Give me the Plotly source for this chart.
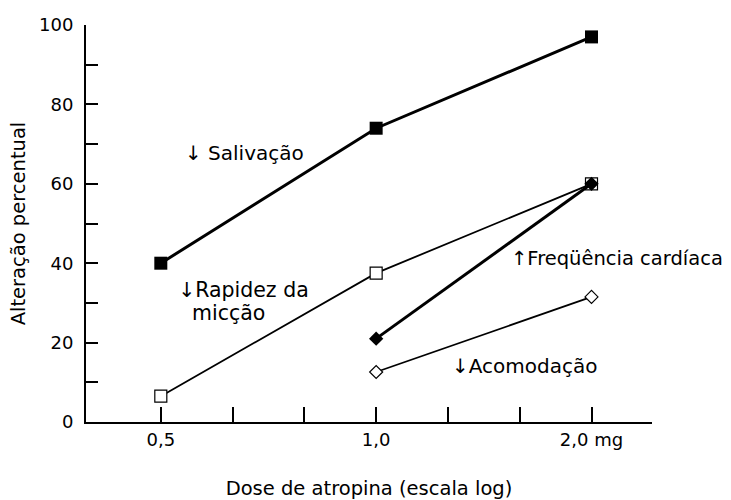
import plotly.graph_objects as go
import math

dose = [0.5, 1.0, 2.0]
salivacao = [40, 74, 97]
miccao = [6.5, 37.5, 60]
dose_hr = [1.0, 2.0]
freq_cardiaca = [21, 60]
acomodacao = [12.6, 31.5]

x_tickvals = [0.5, 0.5 * 2 ** (1 / 3), 0.5 * 2 ** (2 / 3), 1.0, 2 ** (1 / 3), 2 ** (2 / 3), 2.0]
x_ticktext = ["0,5", "", "", "1,0", "", "", "2,0 mg"]
y_tickvals = [0, 10, 20, 30, 40, 50, 60, 70, 80, 90, 100]
y_ticktext = ["0", "", "20", "", "40", "", "60", "", "80", "", "100"]

FONT = "DejaVu Sans, Liberation Sans, Arial, sans-serif"

fig = go.Figure()

fig.add_trace(go.Scatter(
    x=dose, y=miccao, mode="lines+markers",
    line=dict(color="black", width=1.8),
    marker=dict(symbol="square", size=12, color="white", line=dict(color="black", width=1.2)),
    cliponaxis=False, showlegend=False))
fig.add_trace(go.Scatter(
    x=dose_hr, y=acomodacao, mode="lines+markers",
    line=dict(color="black", width=1.8),
    marker=dict(symbol="diamond", size=10, color="white", line=dict(color="black", width=1.2)),
    cliponaxis=False, showlegend=False))
fig.add_trace(go.Scatter(
    x=dose_hr, y=freq_cardiaca, mode="lines+markers",
    line=dict(color="black", width=3),
    marker=dict(symbol="diamond", size=11, color="black"),
    cliponaxis=False, showlegend=False))
fig.add_trace(go.Scatter(
    x=dose, y=salivacao, mode="lines+markers",
    line=dict(color="black", width=3),
    marker=dict(symbol="square", size=13, color="black"),
    cliponaxis=False, showlegend=False))

# (text, left edge in paper-x, y in data units, font size)
annots = [
    ("↓ Salivação", (183 - 86) / 566, 67.8, 20),
    ("↓Rapidez da", (176 - 86) / 566, 33.2, 20.5),
    ("micção", (190 - 86) / 566, 27.4, 20.5),
    ("↑Freqüência cardíaca", (509 - 86) / 566, 41.3, 19.5),
    ("↓Acomodação", (450 - 86) / 566, 14.1, 20),
]
for text, x, y, size in annots:
    fig.add_annotation(x=x, y=y, xref="paper", yref="y", text=text, showarrow=False,
                       xanchor="left", yanchor="middle",
                       font=dict(family=FONT, size=size, color="black"))

fig.update_xaxes(
    type="log", range=[math.log10(0.393), math.log10(2.43)],
    tickmode="array", tickvals=x_tickvals, ticktext=x_ticktext,
    ticks="inside", ticklen=15, tickwidth=1.5, tickcolor="black",
    showline=True, linecolor="black", linewidth=2,
    showgrid=False, zeroline=False, automargin=False,
    tickfont=dict(family=FONT, size=18, color="black"),
    title=dict(text="Dose de atropina (escala log)", standoff=34,
               font=dict(family=FONT, size=19.5, color="black")),
)
fig.update_yaxes(
    range=[0, 100],
    tickmode="array", tickvals=y_tickvals, ticktext=y_ticktext,
    ticks="inside", ticklen=12, tickwidth=1.5, tickcolor="black",
    ticklabelstandoff=7,
    showline=True, linecolor="black", linewidth=2,
    showgrid=False, zeroline=False, automargin=False,
    tickfont=dict(family=FONT, size=18, color="black"),
    title=dict(text="Alteração percentual", standoff=8,
               font=dict(family=FONT, size=19.5, color="black")),
)

fig.update_layout(
    width=731, height=500,
    margin=dict(l=86, r=79, t=25, b=78),
    paper_bgcolor="white", plot_bgcolor="white",
)

fig.write_html(
    "out.html",
    config={"displayModeBar": False},
    post_script=(
        "document.body.style.margin='0';"
        "document.body.style.overflow='hidden';"
        "document.documentElement.style.overflow='hidden';"
    ),
)
